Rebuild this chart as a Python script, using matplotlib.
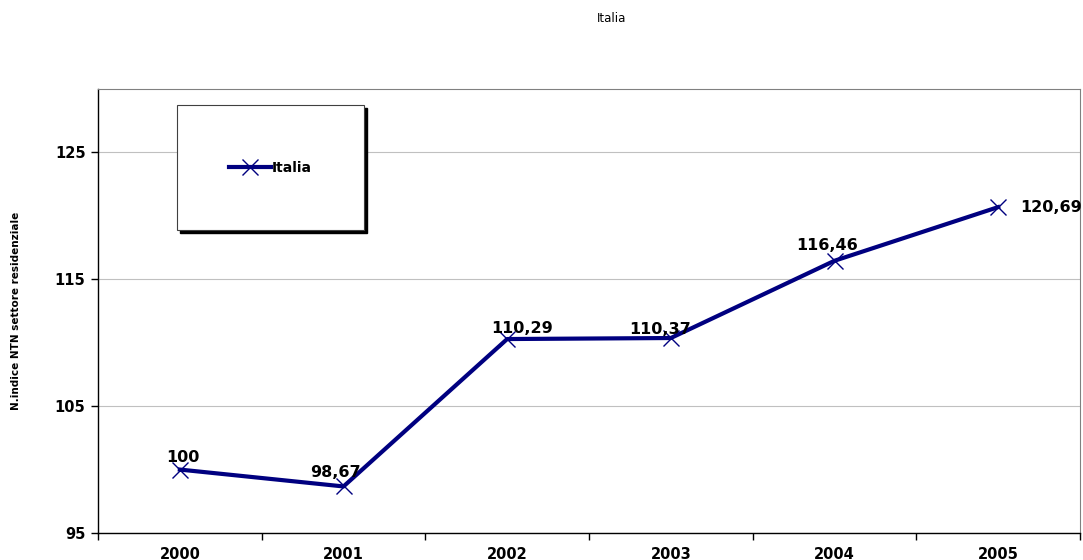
import matplotlib
matplotlib.use("Agg")
import matplotlib.pyplot as plt
from matplotlib.patches import Rectangle

years = ["2000", "2001", "2002", "2003", "2004", "2005"]
values = [100, 98.67, 110.29, 110.37, 116.46, 120.69]
labels = ["100", "98,67", "110,29", "110,37", "116,46", "120,69"]
yticks = [95, 105, 115, 125]

plt.rcParams['font.family'] = ['DejaVu Sans']

fig = plt.figure(figsize=(10.83, 5.6), dpi=100)
ax = fig.add_axes([98/1083, 1-533/560, 982/1083, 444/560])

x = list(range(len(years)))
ax.plot(x, values, color='#000080', lw=3, marker='x', ms=12, mew=1,
        label='Italia', zorder=3, clip_on=False)

ax.set_xlim(-0.5, 5.5)
ax.set_ylim(95, 130)
ax.set_yticks(yticks)
ax.set_yticklabels([str(t) for t in yticks], fontsize=10.5, fontweight='bold')
ax.set_xticks(x)
ax.set_xticklabels(years, fontsize=10.5, fontweight='bold')
ax.set_xticks([i + 0.5 for i in range(-1, 6)], minor=True)
ax.tick_params(axis='x', which='major', length=0, pad=10)
ax.tick_params(axis='x', which='minor', length=5, width=1, direction='out')
ax.tick_params(axis='y', length=5, width=1, direction='out', pad=4)
ax.grid(axis='y', color='#c0c0c0', lw=0.8)
ax.set_axisbelow(True)
for s in ['top', 'right']:
    ax.spines[s].set_color('#808080')
    ax.spines[s].set_linewidth(0.8)
for s in ['left', 'bottom']:
    ax.spines[s].set_color('black')
    ax.spines[s].set_linewidth(1)

offsets = [(2, 9), (-6, 10), (11, 7.5), (-8, 6), (-5, 11), (38, 0)]
for xi, v, lab, off in zip(x, values, labels, offsets):
    ax.annotate(lab, (xi, v), xytext=off, textcoords='offset points',
                ha='center', va='center', fontsize=11.5, fontweight='bold',
                annotation_clip=False)

ax.set_ylabel('N.indice NTN settore residenziale', fontsize=7.5, fontweight='bold', labelpad=24)

fig.text(612/1083, 1-19/560, 'Italia', ha='center', va='center', fontsize=8.5)

# legend box with shadow
lx0, ly0 = (177-98)/982, (533-230)/444
lw_, lh_ = (364-177)/982, (230-105)/444
sh = Rectangle((lx0 + 3/982, ly0 - 3/444), lw_, lh_, transform=ax.transAxes,
               facecolor='black', edgecolor='black', zorder=4)
box = Rectangle((lx0, ly0), lw_, lh_, transform=ax.transAxes,
                facecolor='white', edgecolor='#404040', lw=0.8, zorder=5)
ax.add_patch(sh)
ax.add_patch(box)
leg = ax.legend(loc='center', bbox_to_anchor=(lx0 + lw_/2, ly0 + lh_/2),
                frameon=False, prop={'size': 10, 'weight': 'bold'},
                handlelength=3, handletextpad=0.1)
leg.set_zorder(6)

fig.savefig('out.png', dpi=100)
